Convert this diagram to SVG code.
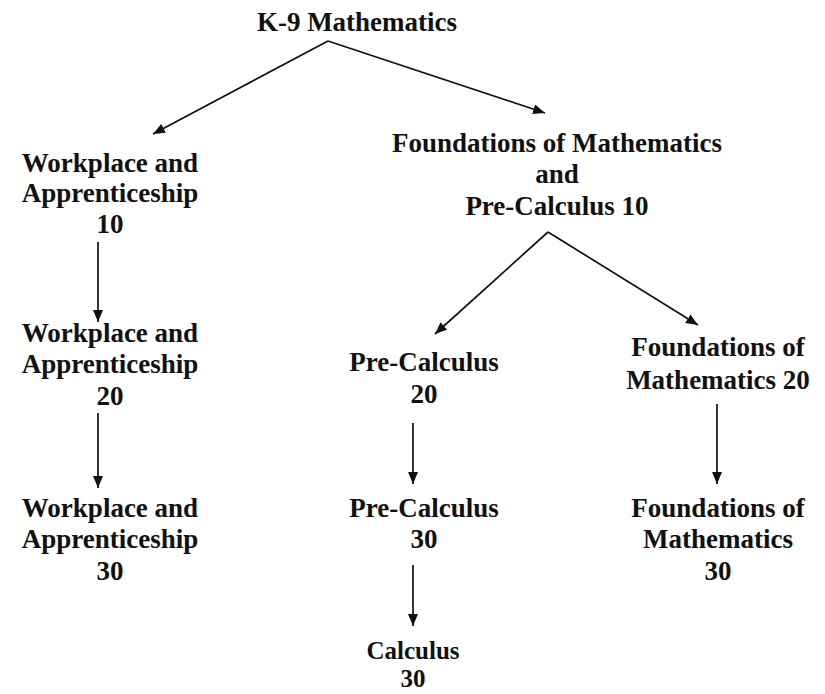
<svg xmlns="http://www.w3.org/2000/svg" width="825" height="694" viewBox="0 0 825 694">
<style>
text{font-family:"Liberation Serif","Times New Roman",serif;font-weight:bold;font-size:27px;fill:#111;text-anchor:middle}
#calc30 text{font-size:25px}
.c line{stroke:#111;stroke-width:1.7;marker-end:url(#ah)}
</style>
<defs>
<marker id="ah" viewBox="0 0 12 10" refX="12" refY="5" markerWidth="12" markerHeight="10" markerUnits="userSpaceOnUse" orient="auto">
<path d="M0,0 L12,5 L0,10 z" fill="#111"/>
</marker>
</defs>
<rect width="825" height="694" fill="#fff"/>
<g id="k9"><text x="357" y="31">K-9 Mathematics</text></g>
<g id="wa10"><text x="110" y="172">Workplace and</text><text x="110" y="202">Apprenticeship</text><text x="110" y="233">10</text></g>
<g id="wa20"><text x="110" y="342">Workplace and</text><text x="110" y="373">Apprenticeship</text><text x="110" y="405">20</text></g>
<g id="wa30"><text x="110" y="517">Workplace and</text><text x="110" y="548">Apprenticeship</text><text x="110" y="580">30</text></g>
<g id="fpc10"><text x="557" y="152">Foundations of Mathematics</text><text x="557" y="183">and</text><text x="557" y="215">Pre-Calculus 10</text></g>
<g id="pc20"><text x="424" y="371">Pre-Calculus</text><text x="424" y="403">20</text></g>
<g id="fm20"><text x="718" y="356">Foundations of</text><text x="718" y="389">Mathematics 20</text></g>
<g id="pc30"><text x="424" y="517">Pre-Calculus</text><text x="424" y="548">30</text></g>
<g id="fm30"><text x="718" y="517">Foundations of</text><text x="718" y="548">Mathematics</text><text x="718" y="580">30</text></g>
<g id="calc30"><text x="413" y="659">Calculus</text><text x="413" y="687">30</text></g>
<g id="connectors" class="c">
<line x1="328" y1="41" x2="153" y2="134"/>
<line x1="328" y1="41" x2="545" y2="113"/>
<line x1="548" y1="232" x2="435" y2="334"/>
<line x1="548" y1="232" x2="698" y2="325"/>
<line x1="98" y1="242" x2="98" y2="322"/>
<line x1="98" y1="413" x2="98" y2="488"/>
<line x1="413" y1="423" x2="413" y2="484"/>
<line x1="413" y1="565" x2="413" y2="626"/>
<line x1="717" y1="404" x2="717" y2="484"/>
</g>
</svg>
